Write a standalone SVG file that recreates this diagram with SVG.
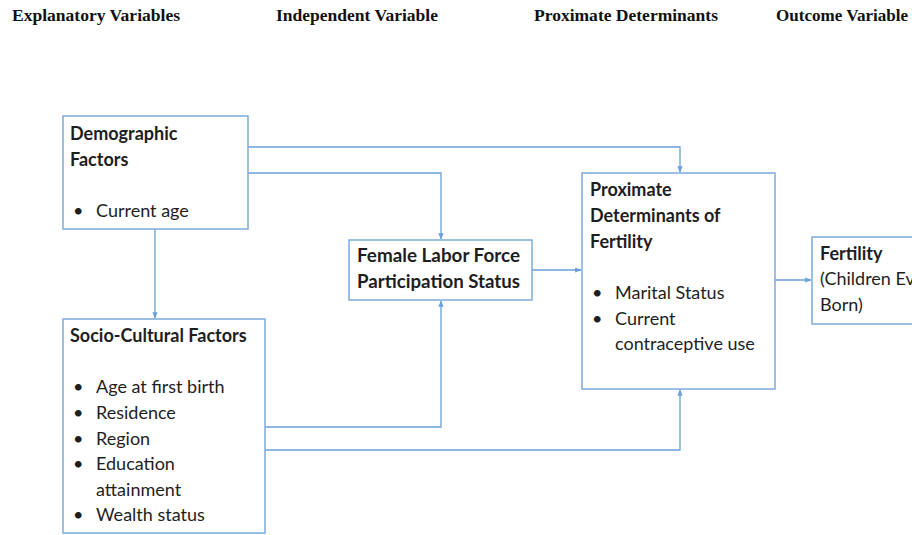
<svg xmlns="http://www.w3.org/2000/svg" width="912" height="535" viewBox="0 0 912 535">
<style>
.hdr{font-family:"Liberation Serif",serif;font-weight:bold;font-size:16px;fill:#111}
.box{fill:#fff;stroke:#7faadb;stroke-width:1.5}
.t{font-family:Lato,"Liberation Sans",sans-serif;font-size:18px;fill:#1e1e1e}
.b{font-weight:bold}
.c{fill:none;stroke:#6a9fd8;stroke-width:1.3}
</style>
<defs>
<marker id="ah" viewBox="0 0 10 10" refX="9" refY="5" markerWidth="5" markerHeight="5" orient="auto">
<path d="M0,1 L10,5 L0,9 z" fill="#6a9fd8"/>
</marker>
</defs>
<rect width="912" height="535" fill="#fff"/>
<g id="headers">
<text class="hdr" x="12" y="21" textLength="168" lengthAdjust="spacingAndGlyphs">Explanatory  Variables</text>
<text class="hdr" x="276" y="21" textLength="162" lengthAdjust="spacingAndGlyphs">Independent  Variable</text>
<text class="hdr" x="534" y="21" textLength="184" lengthAdjust="spacingAndGlyphs">Proximate Determinants</text>
<text class="hdr" x="776" y="21" textLength="132" lengthAdjust="spacingAndGlyphs">Outcome Variable</text>
</g>
<g id="connectors">
<path class="c" d="M248,147 H680 V172" marker-end="url(#ah)"/>
<path class="c" d="M248,173 H441 V239" marker-end="url(#ah)"/>
<path class="c" d="M155,229 V318" marker-end="url(#ah)"/>
<path class="c" d="M265,427 H441 V301" marker-end="url(#ah)"/>
<path class="c" d="M265,450 H680 V390" marker-end="url(#ah)"/>
<path class="c" d="M532,270 H581" marker-end="url(#ah)"/>
<path class="c" d="M775,280 H811" marker-end="url(#ah)"/>
</g>
<g id="demographic">
<rect class="box" x="63" y="116" width="185" height="113"/>
<text class="t b" x="70" y="140">Demographic</text>
<text class="t b" x="70" y="166">Factors</text>
<text class="t" x="73" y="217">•</text>
<text class="t" x="96" y="217">Current age</text>
</g>
<g id="socio">
<rect class="box" x="63" y="319" width="202" height="214"/>
<text class="t b" x="70" y="342">Socio-Cultural Factors</text>
<text class="t" x="73" y="393">•</text><text class="t" x="96" y="393">Age at first birth</text>
<text class="t" x="73" y="419">•</text><text class="t" x="96" y="419">Residence</text>
<text class="t" x="73" y="445">•</text><text class="t" x="96" y="445">Region</text>
<text class="t" x="73" y="470">•</text><text class="t" x="96" y="470">Education</text>
<text class="t" x="96" y="496">attainment</text>
<text class="t" x="73" y="521">•</text><text class="t" x="96" y="521">Wealth status</text>
</g>
<g id="labor">
<rect class="box" x="349" y="240" width="183" height="60"/>
<text class="t b" x="357" y="262" textLength="163" lengthAdjust="spacingAndGlyphs">Female Labor Force</text>
<text class="t b" x="357" y="288" textLength="163" lengthAdjust="spacingAndGlyphs">Participation Status</text>
</g>
<g id="proximate">
<rect class="box" x="582" y="173" width="193" height="216"/>
<text class="t b" x="590" y="196">Proximate</text>
<text class="t b" x="590" y="222">Determinants of</text>
<text class="t b" x="590" y="248">Fertility</text>
<text class="t" x="592" y="299">•</text><text class="t" x="615" y="299">Marital Status</text>
<text class="t" x="592" y="325">•</text><text class="t" x="615" y="325">Current</text>
<text class="t" x="615" y="350">contraceptive use</text>
</g>
<g id="fertility">
<rect class="box" x="812" y="237" width="110" height="87"/>
<text class="t b" x="820" y="260">Fertility</text>
<text class="t" x="820" y="285">(Children Ever</text>
<text class="t" x="820" y="311">Born)</text>
</g>
</svg>
